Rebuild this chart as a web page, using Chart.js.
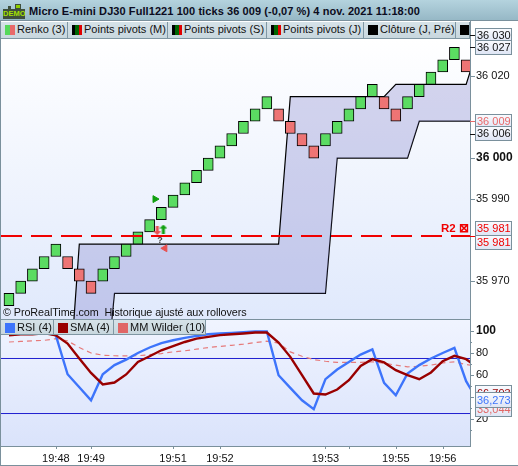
<!DOCTYPE html>
<html>
<head>
<meta charset="utf-8">
<script src="https://cdn.jsdelivr.net/npm/chart.js@4"></script>
<style>
    html, body { margin: 0; padding: 0; background: #fff; }
    body { width: 518px; height: 466px; position: relative; overflow: hidden; font-family: "Liberation Sans", sans-serif; color: #111; }
    canvas { position: absolute; left: 0; }
    #priceChart { top: 21px; }
    #rsiChart { top: 319px; }
    .title { position: absolute; left: 0; top: 0; width: 518px; height: 21px; background: linear-gradient(#b4d3de, #96b8c6); border-bottom: 1px solid #7a909c; box-sizing: border-box; font-weight: bold; font-size: 11px; letter-spacing: 0.08px; line-height: 21px; white-space: nowrap; }
    .title span.txt { position: absolute; left: 29px; top: 1px; color: #0c0c20; }
    .demo { position: absolute; left: 3px; top: 9px; width: 22px; height: 10px; background: #3f4f3c; color: #a4e000; font-size: 7.5px; font-weight: bold; line-height: 10px; text-align: center; letter-spacing: 0; }
    .demo-a { position: absolute; left: 8px; top: 6px; width: 3px; height: 3px; background: #3f4f3c; }
    .demo-b { position: absolute; left: 15px; top: 4px; width: 6px; height: 5px; background: #8fd000; border: 1px solid #3f4f3c; box-sizing: border-box; }
    .row { position: absolute; background: linear-gradient(#d6e2e8, #c8d7de); font-size: 11px; white-space: nowrap; z-index: 5; }
    .row .btn { position: absolute; top: 0; bottom: 0; border-right: 1px solid #8097a3; box-sizing: border-box; overflow: hidden; }
    .row .sw { position: absolute; left: 4px; width: 10px; height: 10px; top: 3px; }
    .row .lb { position: absolute; left: 16px; top: 1px; }
    #topRow { left: 1px; top: 22px; width: 469px; height: 17px; border-bottom: 1px solid #8097a3; box-sizing: border-box; }
    #rsiRow { left: 1px; top: 319px; width: 205px; height: 16px; border-bottom: 1px solid #8097a3; border-top: 1px solid #8097a3; box-sizing: border-box; }
    .credit { position: absolute; left: 3px; top: 306px; font-size: 10.8px; letter-spacing: -0.08px; z-index: 4; white-space: pre; }
    .edge { position: absolute; background: #7a909c; z-index: 6; }
</style>
</head>
<body>
<div class="title">
    <div class="demo-a"></div><div class="demo-b"></div><div class="demo">DEMO</div>
    <span class="txt">Micro E-mini DJ30 Full1221 100 ticks 36 009 (-0,07 %) 4 nov. 2021 11:18:00</span>
</div>
<div class="row" id="topRow"></div>
<canvas id="priceChart" width="518" height="298"></canvas>
<canvas id="rsiChart" width="518" height="147"></canvas>
<div class="row" id="rsiRow"></div>
<div class="credit">© ProRealTime.com  Historique ajusté aux rollovers</div>
<div class="edge" style="left:0;top:21px;width:1px;height:445px"></div>
<div class="edge" style="left:0;top:465px;width:518px;height:1px"></div>
<script>
// renko bricks, one entry per bar
const brickLow = [35964, 35967, 35970, 35973, 35976, 35973, 35970, 35967, 35970, 35973,
    35976, 35979, 35982, 35985, 35988, 35991, 35994, 35997, 36000, 36003,
    36006, 36009, 36012, 36009, 36006, 36003, 36000, 36003, 36006, 36009,
    36012, 36015, 36012, 36009, 36012, 36015, 36018, 36021, 36024, 36021];
const brickHigh = [35967, 35970, 35973, 35976, 35979, 35976, 35973, 35970, 35973, 35976,
    35979, 35982, 35985, 35988, 35991, 35994, 35997, 36000, 36003, 36006,
    36009, 36012, 36015, 36012, 36009, 36006, 36003, 36006, 36009, 36012,
    36015, 36018, 36015, 36012, 36015, 36018, 36021, 36024, 36027, 36024];
const brickUp = [1, 1, 1, 1, 1, 0, 0, 0, 1, 1, 1, 1, 1, 1, 1, 1, 1, 1, 1, 1,
    1, 1, 1, 0, 0, 0, 0, 1, 1, 1, 1, 1, 0, 0, 1, 1, 1, 1, 1, 0];

// band around the bricks, bar 0 to bar 40
const bandUpper = [null, null, null, null, null, 35939, 35979, 35979, 35979, 35979,
    35979, 35979, 35979, 35979, 35979, 35979, 35979, 35979, 35979, 35979,
    35979, 35979, 35979, 35979, 36015, 36015, 36015, 36015, 36015, 36015,
    36015, 36015, 36015, 36018, 36018, 36018, 36018, 36018, 36018, 36018, 36027];
const bandLower = [null, null, null, null, null, 35939, 35939, 35939, 35938, 35967,
    35967, 35967, 35967, 35967, 35967, 35967, 35967, 35967, 35967, 35967,
    35967, 35967, 35967, 35967, 35967, 35967, 35967, 35967, 36000, 36000,
    36000, 36000, 36000, 36000, 36000, 36009, 36009, 36009, 36009, 36009, 36009];

const pivotR2 = 35981;
const priceTicks = [36020, 36000, 35990, 35970];
const boxedPrices = [36030, 36027, 36009, 36006, 35981, 35981];

// oscillator panel, bar 0 to bar 40
const rsiValues = [97, 98, 98, 99, 96, 60.7, 48.9, 37, 60.7, 69,
    74, 80, 85, 89, 91.6, 93.7, 95.5, 97, 97.7, 98.2,
    98.9, 99.5, 99.5, 59.8, 48.3, 37, 29, 56.2, 65, 71.9,
    78.6, 83.2, 52.8, 41.6, 61.4, 69, 75, 80, 84.6, 54.4, 36.3];
const smaValues = [96, 97, 97, 98, 96, 88.6, 75, 61.9, 51.4, 53.2,
    60.5, 71.9, 77, 82.5, 86.2, 90, 93, 94.6, 96.2, 97,
    97.7, 98.6, 98.6, 89.5, 76.5, 59.8, 43.2, 42.3, 46.8, 55.3,
    68.3, 74.4, 71.4, 64.4, 60, 56.2, 62.3, 72.5, 77.4, 74.4, 66.8];
const wilderValues = [90, 90.5, 91, 91.5, 93, 91, 85, 80, 78, 77.5,
    77.4, 77.5, 78.5, 79.5, 81, 82, 83.5, 85, 86, 87,
    88, 89.5, 90.7, 89, 81, 77, 74, 72.5, 71.4, 71.4,
    71.4, 72, 70.7, 69, 67.4, 68, 69, 71, 72, 69.5, 68];
const rsiLevels = [75, 25];
const rsiTicks = [100, 90, 80, 70, 60, 50, 40, 30, 20, 10];

const timeTickBars = [4, 7, 14, 18, 27, 29, 33, 37];
const timeTickLabels = ['19:48', '19:49', '19:51', '19:52', '19:53', '', '19:55', '19:56'];

const topLegend = [
    ['Renko (3)', ['#55d85a', '#e86a6a'], 67],
    ['Points pivots (M)', ['#000', '#006400', '#e00000'], 100],
    ['Points pivots (S)', ['#000', '#006400', '#e00000'], 99],
    ['Points pivots (J)', ['#000', '#006400', '#e00000'], 97],
    ['Clôture (J, Pré)', ['#000'], 92],
    ['', ['#000'], 14],
];
const rsiLegend = [
    ['RSI (4)', ['#3d74fb'], 53],
    ['SMA (4)', ['#990000'], 60],
    ['MM Wilder (10)', ['#e06666'], 92],
];

const AXIS_COLOR = '#7a909c';
const FONT = '"Liberation Sans", sans-serif';
const xMin = -0.68, xMax = 39.33;

function buildLegend(id, items) {
    const row = document.getElementById(id);
    let left = 0;
    items.forEach(function (item) {
        const stops = item[1].map((c, i) => `${c} ${i * 100 / item[1].length}% ${(i + 1) * 100 / item[1].length}%`).join(',');
        const btn = document.createElement('div');
        btn.className = 'btn';
        btn.style.left = left + 'px';
        btn.style.width = item[2] + 'px';
        btn.innerHTML = `<div class="sw" style="background:linear-gradient(90deg,${stops})"></div><div class="lb">${item[0]}</div>`;
        row.appendChild(btn);
        left += item[2];
    });
}
buildLegend('topRow', topLegend);
buildLegend('rsiRow', rsiLegend);

function points(values) {
    return values.map((y, x) => ({ x, y }));
}

function fmt(v) {
    return String(v).replace(/(\d{2})(\d{3})/, '$1 $2');
}

function arrowStyle(color, up) {
    const c = document.createElement('canvas');
    c.width = 8; c.height = 9;
    const g = c.getContext('2d');
    g.fillStyle = color;
    g.translate(0, up ? 0 : 9);
    g.scale(1, up ? 1 : -1);
    g.beginPath();
    g.moveTo(4, 0); g.lineTo(8, 4); g.lineTo(5.5, 4); g.lineTo(5.5, 9);
    g.lineTo(2.5, 9); g.lineTo(2.5, 4); g.lineTo(0, 4);
    g.closePath();
    g.fill();
    return c;
}

function panelBackground(top, bottom, startY) {
    return {
        id: 'panelBackground',
        beforeDraw(chart) {
            const a = chart.chartArea, ctx = chart.ctx;
            const grad = ctx.createLinearGradient(0, startY, 0, a.bottom);
            grad.addColorStop(0, top);
            grad.addColorStop(1, bottom);
            ctx.fillStyle = grad;
            ctx.fillRect(a.left, a.top, a.right - a.left, a.bottom - a.top);
        },
    };
}

function drawBox(ctx, x, y, w, h, text, color) {
    const grad = ctx.createLinearGradient(0, y, 0, y + h);
    grad.addColorStop(0, '#fbfcff');
    grad.addColorStop(1, '#dde4f4');
    ctx.fillStyle = grad;
    ctx.fillRect(x, y, w, h);
    ctx.strokeStyle = AXIS_COLOR;
    ctx.lineWidth = 1;
    ctx.strokeRect(x + 0.5, y + 0.5, w - 1, h - 1);
    ctx.fillStyle = color;
    ctx.font = `11px ${FONT}`;
    ctx.textAlign = 'left';
    ctx.textBaseline = 'middle';
    ctx.fillText(text, x + 2, y + h / 2 + 0.5);
}

function noEdgePadding(s) {
    s.width = 48;
    s.paddingTop = 0;
    s.paddingBottom = 0;
}

// tick marks, boxed prices and the R2 tag
const priceOverlay = {
    id: 'priceOverlay',
    afterDraw(chart) {
        const ctx = chart.ctx, y = chart.scales.y, right = chart.chartArea.right;
        ctx.save();
        ctx.strokeStyle = AXIS_COLOR;
        priceTicks.forEach(function (v) {
            const py = Math.round(y.getPixelForValue(v)) + 0.5;
            ctx.beginPath(); ctx.moveTo(right, py); ctx.lineTo(right + 5, py); ctx.stroke();
        });
        const boxColors = ['#111', '#111', '#e86a6a', '#111', '#f00000', '#f00000'];
        const boxShift = [0, 0, 0, 0, -7, 7];
        boxedPrices.forEach(function (v, i) {
            const py = y.getPixelForValue(v);
            ctx.strokeStyle = i >= 4 ? '#f00000' : (i === 2 ? '#e86a6a' : '#111');
            ctx.beginPath(); ctx.moveTo(right, Math.round(py) + 0.5); ctx.lineTo(right + 5, Math.round(py) + 0.5); ctx.stroke();
            drawBox(ctx, right + 5, Math.round(py + boxShift[i] - 7.5), 37, 15, fmt(v), boxColors[i]);
        });
        ctx.fillStyle = '#f00000';
        ctx.font = `bold 11.5px ${FONT}`;
        ctx.textAlign = 'left';
        ctx.textBaseline = 'middle';
        ctx.fillText('R2 ⊠', 441, y.getPixelForValue(pivotR2) - 7);
        ctx.fillStyle = '#444';
        ctx.font = `bold 9px ${FONT}`;
        ctx.textAlign = 'center';
        ctx.fillText('?', chart.scales.x.getPixelForValue(12.88), y.getPixelForValue(35979.8));
        ctx.restore();
    },
};

const rsiOverlay = {
    id: 'rsiOverlay',
    afterDraw(chart) {
        const ctx = chart.ctx, y = chart.scales.y, x = chart.scales.x, a = chart.chartArea;
        ctx.save();
        ctx.strokeStyle = AXIS_COLOR;
        ctx.beginPath(); ctx.moveTo(a.left, 0.5); ctx.lineTo(a.right, 0.5); ctx.stroke();
        rsiTicks.forEach(function (v) {
            const py = Math.round(y.getPixelForValue(v)) + 0.5;
            ctx.beginPath(); ctx.moveTo(a.right, py); ctx.lineTo(a.right + (v % 20 ? 2 : 4), py); ctx.stroke();
        });
        timeTickBars.forEach(function (b) {
            const px = Math.round(x.getPixelForValue(b)) + 0.5;
            ctx.beginPath(); ctx.moveTo(px, a.bottom); ctx.lineTo(px, a.bottom + 3); ctx.stroke();
        });
        const last = [
            [66.793, '#990000', -7],
            [33.044, '#e06666', 9],
            [36.273, '#3d74fb', 0],
        ];
        last.forEach(function (item) {
            const text = String(item[0]).replace('.', ',');
            drawBox(ctx, a.right + 5, 73 + item[2], 37, 16, text, item[1]);
        });
        ctx.restore();
    },
};

new Chart(document.getElementById('priceChart'), {
    data: {
        datasets: [
            { type: 'bar', order: 1, data: brickLow.map((lo, i) => ({ x: i, y: [lo, brickHigh[i]] })),
              backgroundColor: brickUp.map(u => (u ? '#5bdc62' : '#ee7474')),
              borderColor: '#000', borderWidth: 1, barThickness: 10, borderSkipped: false },
            { type: 'line', order: 2, data: points(bandUpper), borderColor: '#000', borderWidth: 1.2,
              pointRadius: 0, tension: 0, fill: '+1', backgroundColor: 'rgba(120,120,200,0.3)' },
            { type: 'line', order: 2, data: points(bandLower), borderColor: '#000', borderWidth: 1.2,
              pointRadius: 0, tension: 0, fill: false },
            { type: 'line', order: 0, data: [{ x: xMin, y: pivotR2 }, { x: xMax + 1, y: pivotR2 }], borderColor: '#f00000',
              borderWidth: 2, borderDash: [21, 9], pointRadius: 0, fill: false },
            { type: 'scatter', order: 0, data: [{ x: 12.46, y: 35990 }], pointStyle: 'triangle', rotation: 90,
              radius: 4, backgroundColor: '#10a010', borderColor: '#10a010' },
            { type: 'scatter', order: 0, data: [{ x: 13.3, y: 35978 }], pointStyle: 'triangle', rotation: -90,
              radius: 4, backgroundColor: '#e85050', borderColor: '#e85050' },
            { type: 'scatter', order: 0, data: [{ x: 12.65, y: 35982.3 }], pointStyle: arrowStyle('#e85050', false) },
            { type: 'scatter', order: 0, data: [{ x: 13.17, y: 35982.7 }], pointStyle: arrowStyle('#10a010', true) },
        ],
    },
    options: {
        responsive: false,
        devicePixelRatio: 1,
        animation: false,
        layout: { autoPadding: false, padding: { left: 1, top: 0, bottom: 0, right: 0 } },
        plugins: { legend: { display: false }, tooltip: { enabled: false } },
        scales: {
            x: { type: 'linear', min: xMin, max: xMax, display: false, offset: false },
            y: {
                position: 'right', min: 35960.75, max: 36033.45,
                grid: { display: false, drawTicks: false },
                border: { display: true, color: AXIS_COLOR },
                afterBuildTicks(s) { s.ticks = priceTicks.map(value => ({ value })); },
                afterFit: noEdgePadding,
                ticks: {
                    padding: 6, color: '#111',
                    callback: v => fmt(v),
                    font: ctx => (ctx.tick && ctx.tick.value === 36000
                        ? { family: FONT, size: 12, weight: 'bold' }
                        : { family: FONT, size: 11 }),
                },
            },
        },
    },
    plugins: [panelBackground('#ffffff', '#e0e9fc', 18), priceOverlay],
});

new Chart(document.getElementById('rsiChart'), {
    data: {
        datasets: [
            { type: 'line', order: 6, data: [{ x: xMin, y: rsiLevels[0] }, { x: xMax, y: rsiLevels[0] }], borderColor: '#2020d0', borderWidth: 1, pointRadius: 0 },
            { type: 'line', order: 5, data: [{ x: xMin, y: rsiLevels[1] }, { x: xMax, y: rsiLevels[1] }], borderColor: '#2020d0', borderWidth: 1, pointRadius: 0 },
            { type: 'line', order: 4, data: points(wilderValues), borderColor: '#e67a7a', borderWidth: 1.2, borderDash: [5, 4], pointRadius: 0, tension: 0 },
            { type: 'line', order: 3, data: points(rsiValues), borderColor: '#3d74fb', borderWidth: 2.4, pointRadius: 0, tension: 0 },
            { type: 'line', order: 2, data: points(smaValues), borderColor: '#990000', borderWidth: 2.4, pointRadius: 0, tension: 0 },
        ],
    },
    options: {
        responsive: false,
        devicePixelRatio: 1,
        animation: false,
        layout: { autoPadding: false, padding: { left: 1, top: 0, bottom: 0, right: 0 } },
        plugins: { legend: { display: false }, tooltip: { enabled: false } },
        scales: {
            x: {
                type: 'linear', min: xMin, max: xMax,
                grid: { display: false, drawTicks: false },
                border: { display: true, color: AXIS_COLOR },
                afterBuildTicks(s) { s.ticks = timeTickBars.map(value => ({ value })); },
                afterFit(s) { s.height = 20; s.paddingLeft = 0; s.paddingRight = 0; },
                ticks: {
                    autoSkip: false, maxRotation: 0, padding: 6, color: '#111',
                    font: { family: FONT, size: 11 },
                    callback: v => timeTickLabels[timeTickBars.indexOf(v)],
                },
            },
            y: {
                position: 'right', min: -4.51, max: 110.89,
                grid: { display: false, drawTicks: false },
                border: { display: true, color: AXIS_COLOR },
                afterBuildTicks(s) { s.ticks = rsiTicks.map(value => ({ value })); },
                afterFit: noEdgePadding,
                ticks: {
                    autoSkip: false, padding: 6, color: '#111',
                    callback: v => (v % 20 === 0 ? String(v) : ''),
                    font: ctx => (ctx.tick && ctx.tick.value === 100
                        ? { family: FONT, size: 12, weight: 'bold' }
                        : { family: FONT, size: 11 }),
                },
            },
        },
    },
    plugins: [panelBackground('#f0f4ff', '#dae3fb', 0), rsiOverlay],
});
</script>
</body>
</html>
